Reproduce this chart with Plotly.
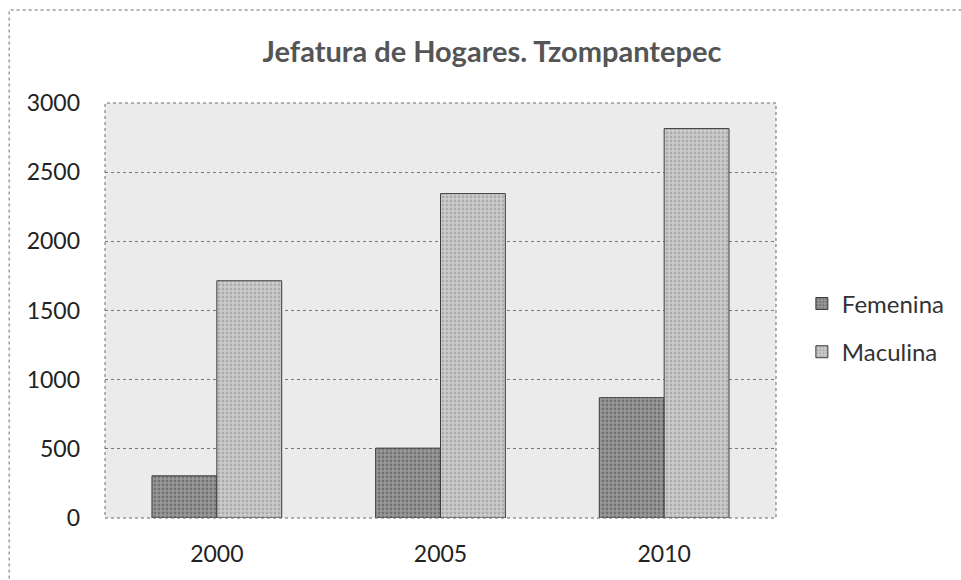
import plotly.graph_objects as go

years = ["2000", "2005", "2010"]
femenina = [305, 505, 870]
maculina = [1715, 2345, 2815]

font_family = "Lato, 'Open Sans', sans-serif"

fig = go.Figure()
fig.add_trace(go.Bar(
    name="Femenina",
    x=years,
    y=femenina,
    legendgroup="fem",
    marker=dict(
        color="#8a8a8a",
        line=dict(color="#3c3c3c", width=1),
        pattern=dict(shape=".", fgcolor="#4a4a4a", bgcolor="#9a9a9a", size=4, solidity=0.4),
    ),
))
fig.add_trace(go.Bar(
    name="Maculina",
    x=years,
    y=maculina,
    legendgroup="mac",
    marker=dict(
        color="#bcbcbc",
        line=dict(color="#3c3c3c", width=1),
        pattern=dict(shape=".", fgcolor="#8c8c8c", bgcolor="#cdcdcd", size=4, solidity=0.4),
    ),
))

fig.update_layout(
    width=961,
    height=580,
    margin=dict(l=105, r=184, t=103, b=62),
    paper_bgcolor="white",
    plot_bgcolor="#ebebeb",
    barmode="group",
    bargap=0.42,
    bargroupgap=0,
    font=dict(family=font_family, size=23, color="#222222"),
    title=dict(
        text="<b>Jefatura de Hogares. Tzompantepec</b>",
        x=492 / 961,
        xref="container",
        xanchor="center",
        y=1 - 52 / 580,
        yanchor="middle",
        font=dict(family=font_family, size=29, color="#555555"),
    ),
    legend=dict(
        x=1.037,
        xanchor="left",
        y=0.458,
        yanchor="middle",
        font=dict(size=24, color="#333333"),
        tracegroupgap=14,
        bgcolor="rgba(0,0,0,0)",
    ),
    xaxis=dict(
        showgrid=False,
        showline=False,
        ticks="",
        ticklabelstandoff=20,
        tickfont=dict(size=23),
    ),
    yaxis=dict(
        range=[0, 3000],
        dtick=500,
        showgrid=True,
        gridcolor="#7a7a7a",
        griddash="dot",
        gridwidth=1,
        zeroline=False,
        ticks="",
        ticklabelstandoff=24,
        tickfont=dict(size=23),
    ),
    shapes=[
        # plot area border
        dict(type="rect", xref="paper", yref="paper", x0=0, x1=1, y0=0, y1=1,
             line=dict(color="#6a6a6a", width=1, dash="dot"), layer="above"),
        # outer chart border
        dict(type="rect", xref="paper", yref="paper",
             x0=(9 - 105) / 672, x1=1.4, y0=(518 - 590) / 415, y1=(518 - 10) / 415,
             line=dict(color="#6a6a6a", width=1, dash="dot")),
    ],
)

fig.write_html(
    "out.html",
    config={"displayModeBar": False},
    post_script="document.body.style.margin='0';",
)
